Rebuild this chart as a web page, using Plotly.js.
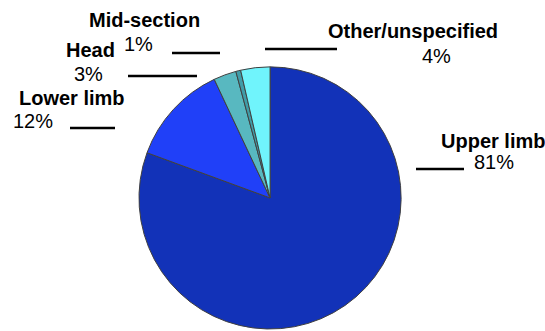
<!DOCTYPE html>
<html>
<head>
<meta charset="utf-8">
<script src="https://cdn.plot.ly/plotly-3.0.1.min.js"></script>
<style>html,body{margin:0;padding:0;background:#fff;}#chart{width:545px;height:331px;}</style>
</head>
<body>
<div id="chart"></div>
<script>
const categories = ["Upper limb", "Lower limb", "Head", "Mid-section", "Other/unspecified"];
const values = [80.6, 12.4, 2.8, 0.6, 3.6];
const pctLabels = ["81%", "12%", "3%", "1%", "4%"];
const colors = ["#1232B8", "#2040F8", "#58B8C0", "#409CA8", "#70F4FC"];

const W = 545, H = 331;
const px = x => x / W;
const py = y => 1 - y / H;

// label placement (pixel positions): name [left, y], pct [left, y], leader [x0, x1, y]
const namePos = [[441, 140.5], [19, 98], [66, 49.5], [89, 20], [328, 31]];
const pctPos = [[474, 162], [13, 121], [74, 74], [124, 44], [422, 56]];
const leaders = [[416, 464, 169], [70, 115, 128], [128, 197, 76], [172, 220, 53], [265, 337, 49]];

const annotations = [];
const shapes = [];
categories.forEach((c, i) => {
  annotations.push({
    text: "<b>" + c + "</b>", xref: "paper", yref: "paper",
    x: px(namePos[i][0] - 2), y: py(namePos[i][1]), xanchor: "left", yanchor: "middle",
    showarrow: false, font: {family: "Liberation Sans, Arial, sans-serif", size: 20, color: "#000"}
  });
  annotations.push({
    text: pctLabels[i], xref: "paper", yref: "paper",
    x: px(pctPos[i][0] - 2), y: py(pctPos[i][1]), xanchor: "left", yanchor: "middle",
    showarrow: false, font: {family: "Liberation Sans, Arial, sans-serif", size: 20, color: "#000"}
  });
  shapes.push({
    type: "line", xref: "paper", yref: "paper",
    x0: px(leaders[i][0]), x1: px(leaders[i][1]), y0: py(leaders[i][2]), y1: py(leaders[i][2]),
    line: {color: "#000", width: 2.5}
  });
});

const data = [{
  type: "pie",
  labels: categories,
  values: values,
  sort: false,
  direction: "clockwise",
  rotation: 0,
  textinfo: "none",
  hoverinfo: "none",
  marker: {colors: colors, line: {color: "#404040", width: 1}},
  domain: {x: [0.255, 0.736], y: [0.006, 0.798]}
}];

const layout = {
  width: W, height: H,
  margin: {l: 0, r: 0, t: 0, b: 0},
  paper_bgcolor: "#fff",
  showlegend: false,
  annotations: annotations,
  shapes: shapes
};

Plotly.newPlot("chart", data, layout, {displayModeBar: false, staticPlot: true});
</script>
</body>
</html>
